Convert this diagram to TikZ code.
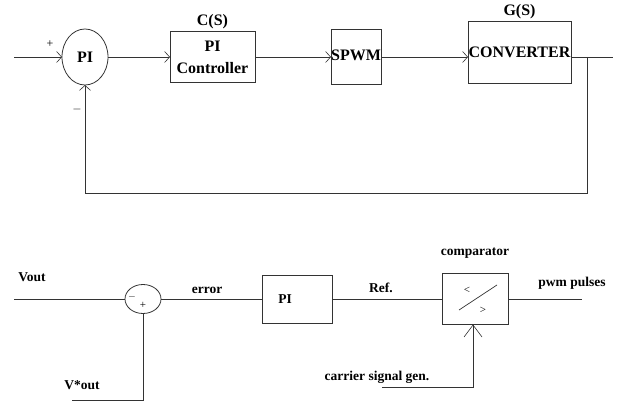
\documentclass[tikz,border=0pt]{standalone}
\usepackage{fontspec}
\setmainfont{Liberation Serif}
\usetikzlibrary{positioning,arrows.meta,shapes.geometric}

\begin{document}
\begin{tikzpicture}[
  x=1pt, y=-1pt,
  font=\bfseries\fontsize{16}{22}\selectfont,
  line width=0.8pt, draw=black!80,
  box/.style={draw, inner sep=0pt, outer sep=0pt, minimum width=#1},
  sumnode/.style={draw, ellipse, inner sep=0pt, outer sep=0pt},
  lbl/.style={font=\bfseries\fontsize{13.5}{16}\selectfont},
  sign/.style={font=\fontsize{12}{12}\selectfont},
  arrow/.style={-{Straight Barb[length=5pt, width=11pt, line width=0.6pt]}},
  bigarrow/.style={-{Straight Barb[length=12pt, width=18pt, line width=0.6pt]}}
]
\useasboundingbox (0,0) rectangle (622,403);

% upper loop
\node[sumnode, minimum width=46pt, minimum height=56pt] (pi) at (85,57) {PI};
\node[box=85pt, minimum height=51pt, right=62pt of pi, align=center,
      label={[label distance=-1pt]above:C(S)}] (ctrl) {PI\\Controller};
\node[box=50pt, minimum height=55pt, right=76pt of ctrl] (spwm) {\raisebox{4pt}{SPWM}};
\node[box=103pt, minimum height=62pt, right=87pt of spwm, yshift=5pt,
      label={[label distance=-2pt]above:G(S)}] (conv) {\raisebox{-5pt}{CONVERTER}};

\coordinate[left=48pt of pi.west] (in);
\coordinate (branch) at (587,57);
\coordinate (out) at (613,57);
\coordinate (fb) at (587,193);

\draw[arrow] (in) -- (pi.west);
\draw[arrow] (pi) -- (ctrl);
\draw[arrow] (ctrl) -- (spwm);
\draw[arrow] (spwm) -- (spwm.east -| conv.west);
\draw (spwm.east -| conv.east) -- (out);
\draw[arrow] (branch) |- (pi.south |- fb) -- (pi.south);

\node[sign] (plus) at (50,44) {+};
\node[sign] (minus) at (77,110) {$-$};

% lower loop
\coordinate (vin) at (14,299);
\node[sumnode, minimum width=36pt, minimum height=29pt] (sum) at (143,299) {};
\node[box=70pt, minimum height=48pt, right=101pt of sum, lbl] (pib) {\raisebox{-10pt}{PI}\hspace*{24pt}};
\node[box=66pt, minimum height=51pt, right=110pt of pib, lbl,
      label={[label distance=11pt, lbl]above:comparator}] (comp) {};

\node[sign, font=\fontsize{11}{11}\selectfont] (lt) at ([shift={(-8,-9)}]comp.center) {<};
\node[sign, font=\fontsize{11}{11}\selectfont] (gt) at ([shift={(8,11)}]comp.center) {>};
\draw[line width=0.7pt] ([shift={(-16,11)}]comp.center) -- ([shift={(22,-14)}]comp.center);

\node[sign, font=\fontsize{10}{10}\selectfont] (sminus) at (132,297) {$-$};
\node[sign, font=\fontsize{11}{11}\selectfont] (splus) at (143,305) {+};

\coordinate (pwm) at (582,299);
\coordinate (carr) at (473,387);
\coordinate (cs) at (382,387);
\coordinate (vref) at (72,400);

\draw (vin) -- (sum.west);
\draw (sum) -- (pib);
\draw (pib) -- (comp);
\draw (comp) -- (pwm);
\draw[bigarrow] (cs) -- (carr) -- (carr |- comp.south);
\draw (sum.south) |- (vref);

\node[lbl] (vout) at (32,277) {Vout};
\node[lbl] (err) at (207,290) {error};
\node[lbl] (ref) at (381,288) {Ref.};
\node[lbl] (pulses) at (572,283) {pwm pulses};
\node[lbl] (carrier) at (377,377) {carrier signal gen.};
\node[lbl] (vstar) at (82,385) {V*out};
\end{tikzpicture}
\end{document}
